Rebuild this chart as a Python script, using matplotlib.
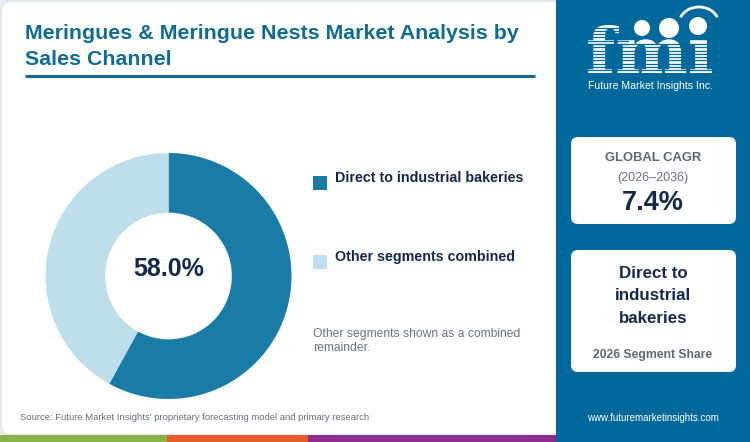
import matplotlib
matplotlib.use("Agg")
import matplotlib.pyplot as plt
from matplotlib.patches import FancyBboxPatch, Rectangle, Circle, Arc, PathPatch
from matplotlib.textpath import TextPath
from matplotlib.font_manager import FontProperties
from matplotlib.transforms import Affine2D

plt.rcParams["font.family"] = ["Liberation Sans", "DejaVu Sans"]

# Data
segments = ["Direct to industrial bakeries", "Other segments combined"]
shares = [58.0, 42.0]
seg_colors = ["#1a7ba7", "#bedeeb"]
cagr_value = 7.4
cagr_years = "(2026\u20132036)"
share_year = "2026"
title_lines = ["Meringues & Meringue Nests Market Analysis by", "Sales Channel"]

panel_col = "#00689a"
navy = "#13294b"
grey = "#5d6673"

W, H = 750, 442
fig = plt.figure(figsize=(W / 100, H / 100), dpi=100)
fig.patch.set_facecolor("#e9eef3")

# pixel-space overlay axes
ax = fig.add_axes([0, 0, 1, 1])
ax.set_xlim(0, W)
ax.set_ylim(H, 0)
ax.axis("off")

# white card on the left
ax.add_patch(FancyBboxPatch((1, 1), 570, 434, boxstyle="round,pad=0,rounding_size=10",
                            fc="white", ec="#dfe5eb", lw=1, zorder=1))
# right panel
ax.add_patch(Rectangle((556, 0), W - 556, H, fc=panel_col, ec="none", zorder=2))

# bottom colour strip
strip = [(0, 167, "#8ab44a"), (167, 308, "#e85c2c"), (308, 556, "#8b2f8a")]
for x0, x1, c in strip:
    ax.add_patch(Rectangle((x0, 435), x1 - x0, 7, fc=c, ec="none", zorder=3))

# title
for line, base in zip(title_lines, [39, 65]):
    ax.text(25, base, line, fontsize=15.4, fontweight="bold", color="#0f6b94",
            va="baseline", ha="left", zorder=4)
ax.plot([25, 535], [76.3, 76.3], color="#0f6b94", lw=2.2, solid_capstyle="butt", zorder=4)

# donut
cx, cy, r = 168.5, 276, 123
box = 125
dax = fig.add_axes([(cx - box) / W, (H - cy - box) / H, 2 * box / W, 2 * box / H])
dax.pie(shares, colors=seg_colors, startangle=90, counterclock=False, radius=1,
        wedgeprops=dict(width=0.485, edgecolor="none"))
lim = box / r
dax.set_xlim(-lim, lim)
dax.set_ylim(-lim, lim)
dax.set_aspect("equal")
dax.axis("off")
dax.text(0, 0.06, f"{shares[0]:.1f}%", ha="center", va="center", fontsize=18,
         fontweight="bold", color=navy)

# legend
leg_y = [183, 262]
for lab, c, y in zip(segments, seg_colors, leg_y):
    ax.add_patch(Rectangle((313, y - 7), 14, 14, fc=c, ec="none", zorder=4))
    ax.text(335, y - 4.5, lab, fontsize=10.25, fontweight="bold", color=navy,
            va="center", ha="left", zorder=4)
ax.text(313, 341, "Other segments shown as a combined\nremainder.", fontsize=8.7,
        color="#6b7380", va="center", ha="left", linespacing=1.3, zorder=4)

# source and website
ax.text(20, 418, "Source: Future Market Insights' proprietary forecasting model and primary research",
        fontsize=6.8, color="#666e78", va="center", ha="left", zorder=4)
ax.text(653, 418, "www.futuremarketinsights.com", fontsize=7.0, color="white",
        va="center", ha="center", zorder=4)

# logo: glyph outline stretched into the logo box, then striped
tp = TextPath((0, 0), "fm\u0131", size=50, prop=FontProperties(family="DejaVu Serif", weight="bold"))
ext = tp.get_extents()
lx0, lx1, ltop, lbase = 588, 712, 25, 73
tr = (Affine2D().translate(-ext.x0, -ext.y0)
      .scale((lx1 - lx0) / ext.width, -(lbase - ltop) / ext.height)
      .translate(lx0, lbase))
ax.add_patch(PathPatch(tr.transform_path(tp), fc="white", ec="none", zorder=4))
for (x, y, rr) in [(642, 28, 8), (669, 28, 10), (698, 26, 9)]:
    ax.add_patch(Circle((x, y), rr, fc="white", ec="none", zorder=5))
ax.add_patch(Arc((699, 24), 40, 34, theta1=200, theta2=340, color="white", lw=2, zorder=5))
yy = 44.0
while yy < 75:
    ax.plot([583, 720], [yy, yy], color=panel_col, lw=0.9, zorder=6)
    yy += 3.3
yy = 27.5
while yy < 44:
    ax.plot([583, 628], [yy, yy], color=panel_col, lw=0.9, zorder=6)
    yy += 3.3
ax.text(650, 86, "Future Market Insights Inc.", fontsize=7.6, color="white",
        ha="center", va="center", zorder=6)

# KPI boxes
ax.add_patch(FancyBboxPatch((571, 137), 165, 87, boxstyle="round,pad=0,rounding_size=7",
                            fc="white", ec="none", zorder=4))
ax.text(653, 158, "GLOBAL CAGR", fontsize=9.4, fontweight="bold", color=grey,
        ha="center", va="center", zorder=5)
ax.text(653, 178, cagr_years, fontsize=9.0, color="#6b7380", ha="center", va="center", zorder=5)
ax.text(653, 203, f"{cagr_value:.1f}%", fontsize=19.5, fontweight="bold", color=navy,
        ha="center", va="center", zorder=5)

ax.add_patch(FancyBboxPatch((571, 250), 165, 122, boxstyle="round,pad=0,rounding_size=7",
                            fc="white", ec="none", zorder=4))
ax.text(653, 296, "Direct to\nindustrial\nbakeries", fontsize=12.2, fontweight="bold",
        color=navy, ha="center", va="center", linespacing=1.6, zorder=5)
ax.text(653, 355, f"{share_year} Segment Share", fontsize=8.7, fontweight="bold",
        color=grey, ha="center", va="center", zorder=5)

fig.savefig("out.png", dpi=100, facecolor=fig.get_facecolor())
